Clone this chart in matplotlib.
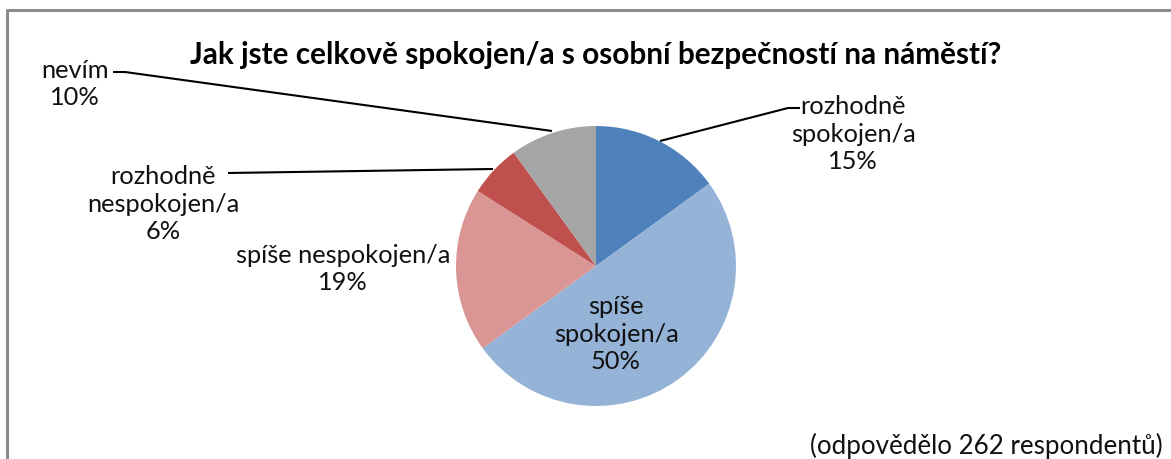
import numpy as np
import matplotlib.pyplot as plt

# data
labels = ['rozhodně\nspokojen/a', 'spíše\nspokojen/a', 'spíše nespokojen/a',
          'rozhodně\nnespokojen/a', 'nevím']
shares = [15, 50, 19, 6, 10]
colors = ['#4F81BD', '#95B3D7', '#DA9694', '#C0504D', '#A5A5A5']
title = 'Jak jste celkově spokojen/a s osobní bezpečností na náměstí?'
note = '(odpovědělo 262 respondentů)'

W, H = 1171, 459
plt.rcParams['font.family'] = ['Lato', 'DejaVu Sans']

fig = plt.figure(figsize=(W / 100, H / 100), dpi=100)
ax = fig.add_axes([0, 0, 1, 1])

def py(y):
    # pixel row -> data y
    return H - y

cx, cy, r = 596, 266, 140
ax.pie(shares, colors=colors, startangle=90, counterclock=False,
       center=(cx, py(cy)), radius=r, frame=True,
       wedgeprops=dict(linewidth=0))
ax.set_xlim(0, W)
ax.set_ylim(0, H)
ax.set_aspect('equal')
ax.axis('off')

# label positions (pixel coords of block centre)
label_pos = [(853, 134), (616, 334), (343, 269), (163, 204), (75, 84)]
for lab, s, (x, y) in zip(labels, shares, label_pos):
    ax.text(x, py(y), f'{lab}\n{s}%', ha='center', va='center',
            fontsize=18.3, linespacing=1.25, color='#111111')

# leader lines
leaders = [
    [(660, 141), (788, 108), (800, 108)],
    [(493, 169), (228, 173)],
    [(552, 131), (125, 72), (113, 72)],
]
for pts in leaders:
    xs = [p[0] for p in pts]
    ys = [py(p[1]) for p in pts]
    ax.plot(xs, ys, color='black', lw=1.5, solid_capstyle='butt')

ax.text(596, py(55), title, ha='center', va='center', fontsize=21.4,
        fontweight='bold', color='black')
ax.text(986, py(446), note, ha='center', va='center', fontsize=18.7,
        color='#111111')

# chart border (cropped at right and bottom)
ax.plot([6.5, 6.5, W], [0, py(9.5), py(9.5)], color='#8c8c8c', lw=2.2,
        clip_on=False)

fig.savefig('out.png', dpi=100)
